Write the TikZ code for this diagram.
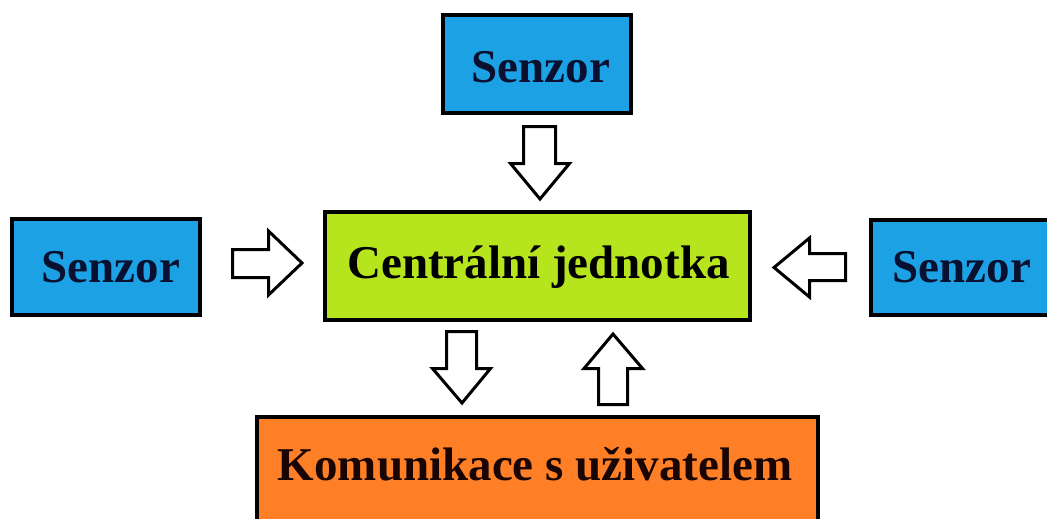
\documentclass[tikz,border=0pt]{standalone}
\usepackage{fontspec}
\setmainfont{Liberation Serif}
\definecolor{senzorblue}{HTML}{1CA2E4}
\definecolor{centralgreen}{HTML}{B6E51E}
\definecolor{commorange}{HTML}{FF7F27}
\definecolor{navytext}{HTML}{0A1030}
\definecolor{browntext}{HTML}{1A0505}
\begin{document}
\begin{tikzpicture}[x=1pt,y=-1pt,
  box/.style={draw=black, line width=4pt, inner sep=0pt},
  lbl/.style={font=\bfseries\fontsize{47}{56}\selectfont, anchor=base, inner sep=0pt},
  barrow/.style={draw=black, fill=white, line width=3pt, line join=miter}]
\useasboundingbox (0,0) rectangle (1047,519);
\clip (0,0) rectangle (1047,519);
\fill[white] (0,0) rectangle (1047,519);
% boxes
\node[box, fill=senzorblue, minimum width=188pt, minimum height=98pt] (stop) at (537,64) {};
\node[box, fill=senzorblue, minimum width=188pt, minimum height=96pt] (sleft) at (106,267) {};
\node[box, fill=senzorblue, minimum width=185pt, minimum height=95pt] (sright) at (963.5,267.5) {};
\node[box, fill=centralgreen, minimum width=425pt, minimum height=108pt] (central) at (537.5,266) {};
\node[box, fill=commorange, minimum width=561pt, minimum height=121pt] (comm) at (537.5,477.5) {};
% labels
\node[lbl, text=navytext] (ttop) at (541,82) {Senzor};
\node[lbl, text=navytext] (tleft) at (111,282) {Senzor};
\node[lbl, text=navytext] (tright) at (962,282) {Senzor};
\node[lbl, text=black] (tcentral) at (538.5,278) {Centrální jednotka};
\node[lbl, text=browntext] (tcomm) at (535,480) {Komunikace s uživatelem};
% block arrows
\draw[barrow] (523.5,126.5) -- (555.5,126.5) -- (555.5,163.5) -- (569.5,163.5) -- (540,199) -- (510.5,163.5) -- (523.5,163.5) -- cycle;
\draw[barrow] (232.5,249.5) -- (268.5,249.5) -- (268.5,231) -- (302,263) -- (268.5,295) -- (268.5,277.5) -- (232.5,277.5) -- cycle;
\draw[barrow] (845.5,253.5) -- (809.5,253.5) -- (809.5,238) -- (774,267.5) -- (809.5,297) -- (809.5,280.5) -- (845.5,280.5) -- cycle;
\draw[barrow] (446.5,331.5) -- (476.5,331.5) -- (476.5,368.5) -- (490.5,368.5) -- (462,403) -- (432.5,368.5) -- (446.5,368.5) -- cycle;
\draw[barrow] (598.5,404.5) -- (627.5,404.5) -- (627.5,368.5) -- (642.5,368.5) -- (613,334) -- (584,368.5) -- (598.5,368.5) -- cycle;
\end{tikzpicture}
\end{document}
